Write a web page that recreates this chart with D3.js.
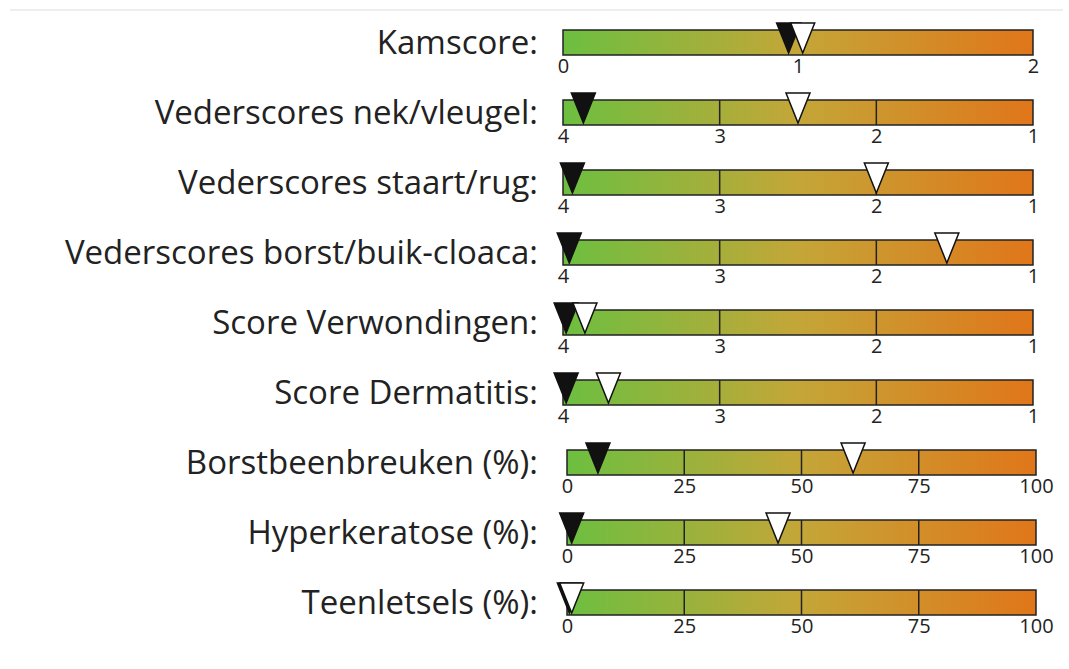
<!DOCTYPE html>
<html><head><meta charset="utf-8">
<script src="https://cdn.jsdelivr.net/npm/d3@7"></script>
<style>body{margin:0;background:#fff}</style></head>
<body><svg id="c" width="1069" height="669"></svg>
<script>
const labels=["Kamscore:","Vederscores nek/vleugel:","Vederscores staart/rug:","Vederscores borst/buik-cloaca:","Score Verwondingen:","Score Dermatitis:","Borstbeenbreuken (%):","Hyperkeratose (%):","Teenletsels (%):"];
const scaleType=["kam","score","score","score","score","score","pct","pct","pct"];
const blackVals=[0.96,3.87,3.94,3.96,3.98,3.98,6.6,1,0.5];
const whiteVals=[1.02,2.5,2.0,1.55,3.86,3.71,61,45,1];
const tickSets={kam:[0,1,2],score:[4,3,2,1],pct:[0,25,50,75,100]};
const domains={kam:[0,2],score:[4,1],pct:[0,100]};
const svg=d3.select("#c");
const defs=svg.append("defs");
const g=defs.append("linearGradient").attr("id","grad");
[["0%","#6cbf40"],["50%","#c4a638"],["100%","#e0761a"]].forEach(s=>g.append("stop").attr("offset",s[0]).attr("stop-color",s[1]));
svg.append("line").attr("x1",10).attr("x2",1063).attr("y1",10).attr("y2",10).attr("stroke","#ddd");
labels.forEach((lab,i)=>{
  const t=scaleType[i];
  const x0=t==="pct"?567:563, x1=t==="pct"?1036:1033;
  const y=30+i*70, h=25;
  const x=d3.scaleLinear().domain(domains[t]).range([x0,x1]);
  svg.append("text").attr("x",538).attr("y",y+h/2+11).attr("text-anchor","end")
    .attr("font-family","Open Sans, Liberation Sans, sans-serif").attr("font-size",33).attr("fill","#222").text(lab);
  svg.append("rect").attr("x",x0).attr("y",y).attr("width",x1-x0).attr("height",h).attr("fill","url(#grad)").attr("stroke","#222").attr("stroke-width",1.5);
  const ticks=tickSets[t];
  if(t!=="kam") ticks.slice(1,-1).forEach(v=>svg.append("line").attr("x1",x(v)).attr("x2",x(v)).attr("y1",y).attr("y2",y+h).attr("stroke","#222").attr("stroke-width",1.5));
  const ax=svg.append("g").attr("transform",`translate(0,${y+h})`)
    .call(d3.axisBottom(x).tickValues(ticks).tickSize(0).tickFormat(d3.format("d")));
  ax.select(".domain").remove();
  ax.selectAll("text").attr("font-size",20).attr("font-family","Open Sans, Liberation Sans, sans-serif").attr("fill","#222").attr("dy","0.75em");
  const tri=(v,fill)=>{const cx=x(v);
    svg.append("path").attr("d",`M${cx-12},${y-7}L${cx+12},${y-7}L${cx},${y+h-2}Z`).attr("fill",fill).attr("stroke","#111").attr("stroke-width",1.5);};
  tri(blackVals[i],"#111");
  tri(whiteVals[i],"#fff");
});
</script></body></html>
